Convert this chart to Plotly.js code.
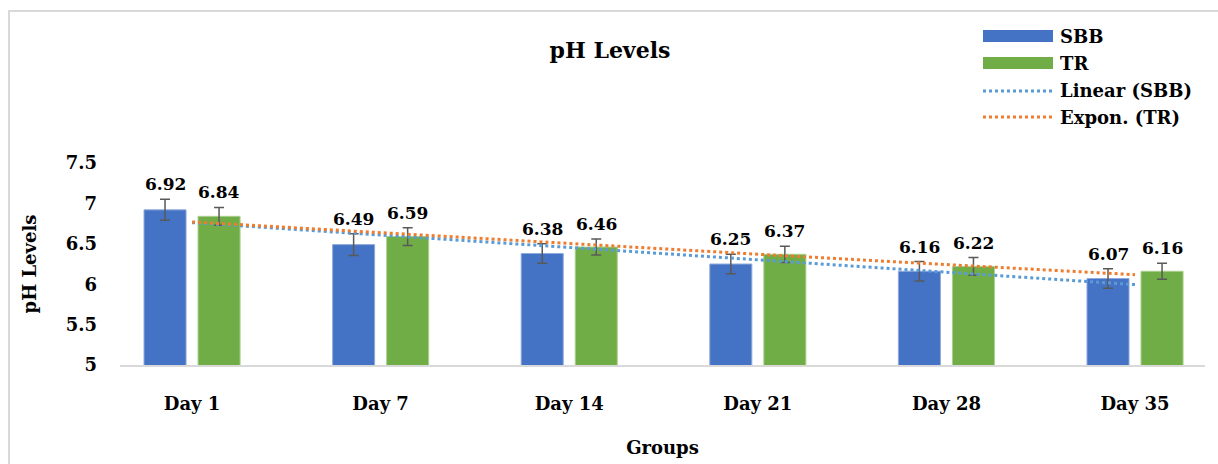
<!DOCTYPE html>
<html>
<head>
<meta charset="utf-8">
<script src="https://cdn.plot.ly/plotly-3.0.1.min.js"></script>
<style>html,body{margin:0;padding:0;background:#fff;}#chart{width:1218px;height:464px;}</style>
</head>
<body>
<div id="chart"></div>
<script>
const categories = ["Day 1", "Day 7", "Day 14", "Day 21", "Day 28", "Day 35"];
const sbbValues = [6.92, 6.49, 6.38, 6.25, 6.16, 6.07];
const trValues = [6.84, 6.59, 6.46, 6.37, 6.22, 6.16];
const sbbErrors = [0.13, 0.135, 0.12, 0.12, 0.12, 0.12];
const trErrors = [0.11, 0.11, 0.1, 0.1, 0.11, 0.1];
const seriesNames = ["SBB", "TR", "Linear (SBB)", "Expon. (TR)"];
const yTicks = [5, 5.5, 6, 6.5, 7, 7.5];

const FONT = "DejaVu Serif";
const L = 120, R = 1205, T = 163, B = 365;
const W = R - L, H = B - T;
const px = x => (x - L) / W;
const py = y => (B - y) / H;

// Trendlines computed from the data (least squares), like the spreadsheet
const xs = categories.map((_, i) => i + 1);
function linFit(xv, yv) {
  const n = xv.length;
  const mx = xv.reduce((a, b) => a + b, 0) / n;
  const my = yv.reduce((a, b) => a + b, 0) / n;
  let sxy = 0, sxx = 0;
  for (let i = 0; i < n; i++) { sxy += (xv[i] - mx) * (yv[i] - my); sxx += (xv[i] - mx) ** 2; }
  const m = sxy / sxx;
  return { m: m, b: my - m * mx };
}
const lf = linFit(xs, sbbValues);
const linTrend = xs.map(x => lf.b + lf.m * x);
const ef = linFit(xs, trValues.map(Math.log));
const expTrend = xs.map(x => Math.exp(ef.b + ef.m * x));

const C_SBB = "#4472C4", C_TR = "#70AD47", C_LIN = "#5B9BD5", C_EXP = "#ED7D31";

const traces = [
  { type: "bar", name: seriesNames[0], x: categories, y: sbbValues,
    marker: { color: C_SBB, line: { color: "#8FAADC", width: 1 } },
    error_y: { type: "data", array: sbbErrors, visible: true, color: "#595959", thickness: 1.5, width: 5 },
    showlegend: false, hoverinfo: "skip" },
  { type: "bar", name: seriesNames[1], x: categories, y: trValues,
    marker: { color: C_TR, line: { color: "#A9D18E", width: 1 } },
    error_y: { type: "data", array: trErrors, visible: true, color: "#595959", thickness: 1.5, width: 5 },
    showlegend: false, hoverinfo: "skip" },
  { type: "scatter", mode: "lines", name: seriesNames[2], x: categories, y: linTrend,
    line: { color: C_LIN, width: 3, dash: "dot" }, showlegend: false, hoverinfo: "skip" },
  { type: "scatter", mode: "lines", name: seriesNames[3], x: categories, y: expTrend,
    line: { color: C_EXP, width: 3, dash: "dot" }, showlegend: false, hoverinfo: "skip" }
];

const annotations = [];
categories.forEach((c, i) => {
  annotations.push({ x: c, y: sbbValues[i] + sbbErrors[i], xref: "x", yref: "y", text: sbbValues[i].toFixed(2),
    showarrow: false, xshift: -27, yshift: 15, yanchor: "middle",
    font: { family: FONT, size: 17, color: "#000", weight: "bold" } });
  annotations.push({ x: c, y: trValues[i] + trErrors[i], xref: "x", yref: "y", text: trValues[i].toFixed(2),
    showarrow: false, xshift: 27, yshift: 15, yanchor: "middle",
    font: { family: FONT, size: 17, color: "#000", weight: "bold" } });
});

// Custom legend
const legRows = [36, 63, 91, 117];
const shapes = [
  { type: "rect", xref: "paper", yref: "paper", x0: px(9), x1: px(1240), y0: py(11), y1: py(490),
    line: { color: "#D9D9D9", width: 2 }, fillcolor: "rgba(0,0,0,0)", layer: "below" },
  { type: "rect", xref: "paper", yref: "paper", x0: px(983), x1: px(1053), y0: py(legRows[0] - 6), y1: py(legRows[0] + 6),
    fillcolor: C_SBB, line: { width: 0 } },
  { type: "rect", xref: "paper", yref: "paper", x0: px(983), x1: px(1053), y0: py(legRows[1] - 6), y1: py(legRows[1] + 6),
    fillcolor: C_TR, line: { width: 0 } },
  { type: "line", xref: "paper", yref: "paper", x0: px(983), x1: px(1053), y0: py(legRows[2]), y1: py(legRows[2]),
    line: { color: C_LIN, width: 3, dash: "dot" } },
  { type: "line", xref: "paper", yref: "paper", x0: px(983), x1: px(1053), y0: py(legRows[3]), y1: py(legRows[3]),
    line: { color: C_EXP, width: 3, dash: "dot" } }
];
seriesNames.forEach((n, i) => {
  annotations.push({ xref: "paper", yref: "paper", x: px(1058), y: py(legRows[i]), xanchor: "left", yanchor: "middle",
    text: n, showarrow: false, font: { family: FONT, size: 18, color: "#000", weight: "bold" } });
});

const layout = {
  width: 1218, height: 464,
  margin: { l: L, r: 1218 - R, t: T, b: 464 - B, pad: 0 },
  paper_bgcolor: "#fff", plot_bgcolor: "#fff",
  title: { text: "pH Levels", x: 610 / 1218, xanchor: "center", y: 1 - 50 / 464, yanchor: "middle",
    font: { family: FONT, size: 22, color: "#000", weight: "bold" } },
  barmode: "group", bargap: 0.427, bargroupgap: 0.222,
  xaxis: { type: "category", range: [-0.382, 5.371], showgrid: false, zeroline: false,
    showline: true, linecolor: "#D9D9D9", linewidth: 1.5, ticks: "",
    tickfont: { family: FONT, size: 18, color: "#000", weight: "bold" }, ticklabelstandoff: 22,
    title: { text: "Groups", font: { family: FONT, size: 18, color: "#000", weight: "bold" }, standoff: 28 } },
  yaxis: { range: [5, 7.5], tickvals: yTicks, ticktext: yTicks.map(String), showgrid: false, zeroline: false,
    showline: false, ticks: "", tickfont: { family: FONT, size: 18, color: "#000", weight: "bold" }, ticklabelstandoff: 22,
    title: { text: "pH Levels", font: { family: FONT, size: 18, color: "#000", weight: "bold" }, standoff: 24 } },
  shapes: shapes,
  annotations: annotations,
  showlegend: false
};

Plotly.newPlot("chart", traces, layout, { displayModeBar: false, staticPlot: true });
</script>
</body>
</html>
